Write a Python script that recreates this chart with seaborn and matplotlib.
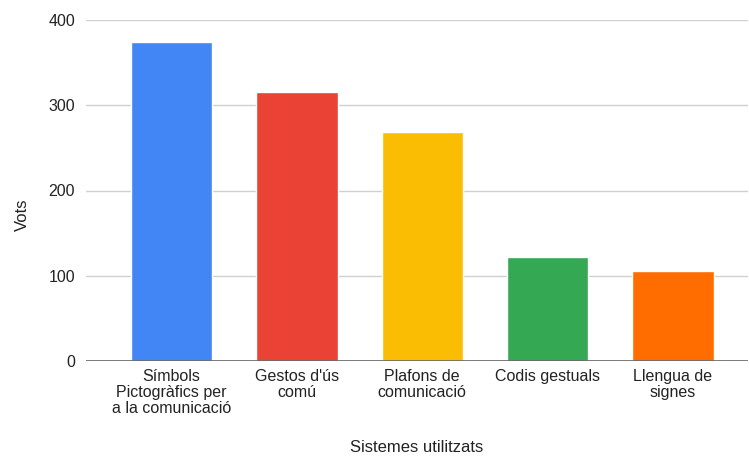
import matplotlib
matplotlib.use('Agg')
import matplotlib.pyplot as plt
import seaborn as sns
import pandas as pd

# Data
categories = ['Símbols\nPictogràfics per\na la comunicació', "Gestos d'ús\ncomú",
              'Plafons de\ncomunicació', 'Codis gestuals', 'Llengua de\nsignes']
votes = [374, 316, 269, 122, 105]
colors = ['#4285F4', '#EA4335', '#FBBC04', '#34A853', '#FF6D01']

df = pd.DataFrame({'Sistemes utilitzats': categories, 'Vots': votes})

sns.set_theme(style='white')
plt.rcParams['font.family'] = ['Liberation Sans', 'DejaVu Sans']

fig = plt.figure(figsize=(7.49, 4.57), dpi=100)
ax = fig.add_axes([86 / 749, 1 - 361 / 457, (748 - 86) / 749, (361 - 20) / 457])

sns.barplot(data=df, x='Sistemes utilitzats', y='Vots', hue='Sistemes utilitzats',
            palette=colors, legend=False, width=0.65, saturation=1, ax=ax, zorder=3)

ax.set_ylim(0, 400)
ax.set_xlim(-0.684, 4.6)
ax.set_yticks([0, 100, 200, 300, 400])
ax.yaxis.grid(True, color='#d0d0d0', linewidth=1, zorder=0)
ax.axhline(0, color='#666666', linewidth=1.2, zorder=4)

for s in ax.spines.values():
    s.set_visible(False)
ax.tick_params(axis='both', length=0, labelsize=11.5, colors='#222222')
ax.tick_params(axis='y', pad=8)
ax.tick_params(axis='x', pad=6)
for lab in ax.get_xticklabels():
    lab.set_linespacing(1.08)

ax.set_xlabel('Sistemes utilitzats', fontsize=12, color='#222222', va='center')
ax.xaxis.set_label_coords(0.5, -87 / 341)
ax.set_ylabel('Vots', fontsize=12, color='#222222', va='center')
ax.yaxis.set_label_coords(-64 / 662, 0.43)

fig.savefig('out.png', dpi=100)
